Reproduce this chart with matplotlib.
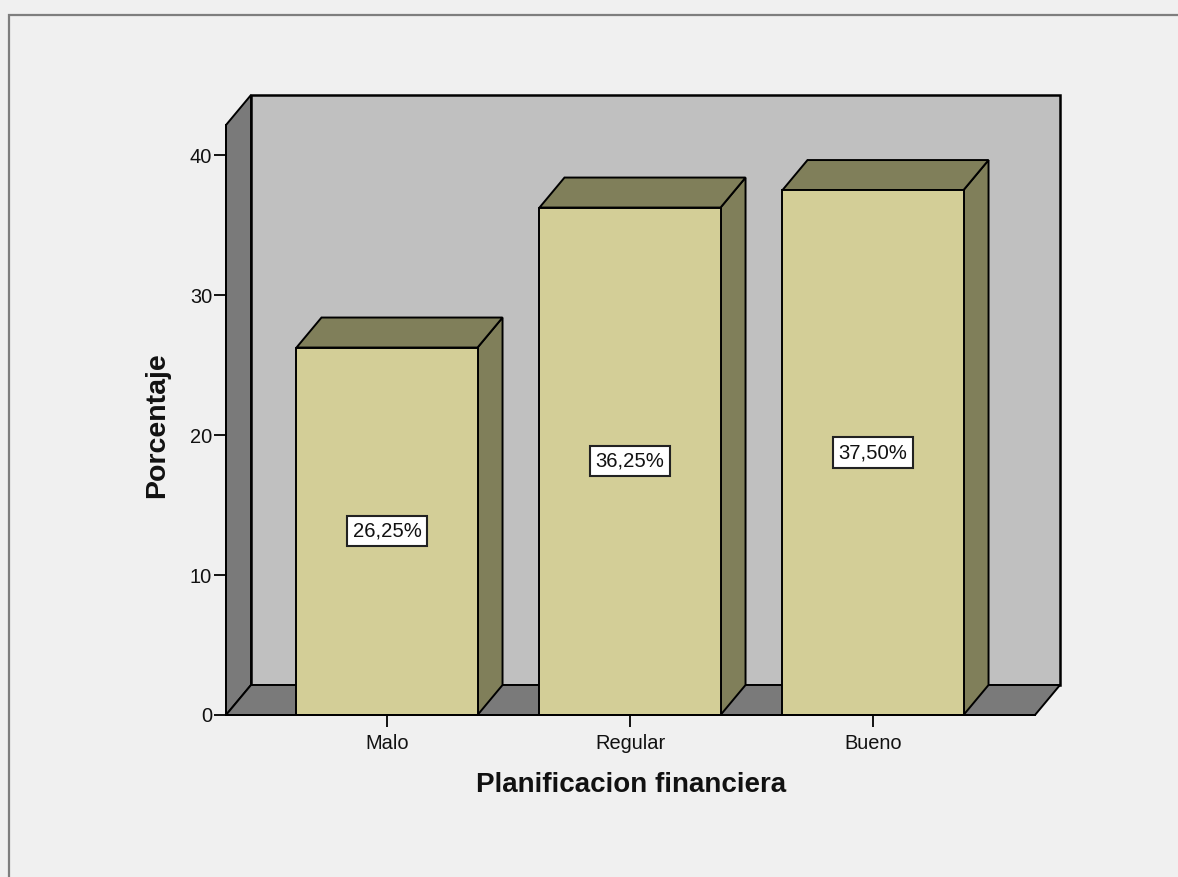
import matplotlib
matplotlib.use("Agg")
import matplotlib.pyplot as plt
from matplotlib.patches import Polygon, Rectangle

# Data
categories = ["Malo", "Regular", "Bueno"]
percentages = [26.25, 36.25, 37.50]
y_ticks = [0, 10, 20, 30, 40]
x_title = "Planificacion financiera"
y_title = "Porcentaje"

# Styling
plt.rcParams["font.family"] = ["Liberation Sans", "DejaVu Sans"]
BG = "#F0F0F0"
WALL_BACK = "#C0C0C0"
WALL_SIDE = "#7A7A7A"
BAR_FRONT = "#D3CE97"
BAR_SHADE = "#807F5A"
EDGE = "#000000"

W, H, DPI = 1178, 877, 100
fig = plt.figure(figsize=(W / DPI, H / DPI), dpi=DPI, facecolor=BG)

# Plot region (front-left axis to back-right wall), in pixels
left_px, right_px, bottom_px, top_px = 226, 1060, 715, 95
ax = fig.add_axes([left_px / W, 1 - bottom_px / H,
                   (right_px - left_px) / W, (bottom_px - top_px) / H])
ax.set_facecolor("none")

# Scales: category spacing and value range
x_min, x_max = -0.6626, 2.7695
y_max = 44.29
ax.set_xlim(x_min, x_max)
ax.set_ylim(0, y_max)

# 3D depth offset in data units
ddx = 0.1029
ddy = 2.143
front_top = y_max - ddy
front_right = x_max - ddx
bar_w = 0.745
lw = 1.4

# Back wall
ax.add_patch(Rectangle((x_min + ddx, ddy), front_right - x_min, front_top,
                       facecolor=WALL_BACK, edgecolor=EDGE, lw=1.8, clip_on=False, zorder=1))
# Left wall
ax.add_patch(Polygon([(x_min, 0), (x_min + ddx, ddy), (x_min + ddx, front_top + ddy),
                      (x_min, front_top)], closed=True,
                     facecolor=WALL_SIDE, edgecolor=EDGE, lw=lw, clip_on=False, zorder=2))
# Floor
ax.add_patch(Polygon([(x_min, 0), (front_right, 0), (front_right + ddx, ddy),
                      (x_min + ddx, ddy)], closed=True,
                     facecolor=WALL_SIDE, edgecolor=EDGE, lw=lw, clip_on=False, zorder=2))

# Bars
for i, v in enumerate(percentages):
    x0, x1 = i - bar_w / 2, i + bar_w / 2
    ax.add_patch(Polygon([(x1, 0), (x1 + ddx, ddy), (x1 + ddx, v + ddy), (x1, v)],
                         closed=True, facecolor=BAR_SHADE, edgecolor=EDGE, lw=lw,
                         clip_on=False, zorder=3))
    ax.add_patch(Polygon([(x0, v), (x1, v), (x1 + ddx, v + ddy), (x0 + ddx, v + ddy)],
                         closed=True, facecolor=BAR_SHADE, edgecolor=EDGE, lw=lw,
                         clip_on=False, zorder=3))
    ax.add_patch(Rectangle((x0, 0), bar_w, v, facecolor=BAR_FRONT, edgecolor=EDGE,
                           lw=lw, clip_on=False, zorder=4))
    label = f"{v:.2f}".replace(".", ",") + "%"
    ax.text(i, v / 2, label, ha="center", va="center", fontsize=14.6, color="#111111",
            zorder=6,
            bbox=dict(boxstyle="square,pad=0.28", facecolor="white",
                      edgecolor="#222222", lw=1.5))

# Axes: only the front-left value axis and category ticks
for side in ("top", "right"):
    ax.spines[side].set_visible(False)
ax.spines["left"].set_bounds(0, front_top)
ax.spines["left"].set_linewidth(lw)
ax.spines["left"].set_zorder(5)
ax.spines["bottom"].set_bounds(x_min, front_right)
ax.spines["bottom"].set_linewidth(lw)
ax.spines["bottom"].set_zorder(5)

ax.set_yticks(y_ticks)
ax.set_yticklabels([str(t) for t in y_ticks])
ax.set_xticks(range(len(categories)))
ax.set_xticklabels(categories)
ax.tick_params(axis="y", direction="out", length=9, width=1.4, pad=1,
               labelsize=14.4, colors="#111111")
ax.tick_params(axis="x", direction="out", length=8.5, width=1.4, pad=5.5,
               labelsize=14.4, colors="#111111")

ax.set_xlabel(x_title, fontsize=20, fontweight="bold", color="#111111")
ax.xaxis.set_label_coords((631 - left_px) / (right_px - left_px),
                          (bottom_px - 785) / (bottom_px - top_px))
ax.xaxis.label.set_va("center")
ax.set_ylabel(y_title, fontsize=20.5, fontweight="bold", color="#111111")
ax.yaxis.set_label_coords((157 - left_px) / (right_px - left_px),
                          (bottom_px - 425) / (bottom_px - top_px))
ax.yaxis.label.set_va("center")

# Outer chart frame
fig.add_artist(Rectangle((8.5 / W, -0.1), 1.2, 1 - 14.5 / H + 0.1,
                         transform=fig.transFigure, fill=False,
                         edgecolor="#7E7E7E", lw=1.6))

fig.savefig("out.png", dpi=DPI, facecolor=BG)
